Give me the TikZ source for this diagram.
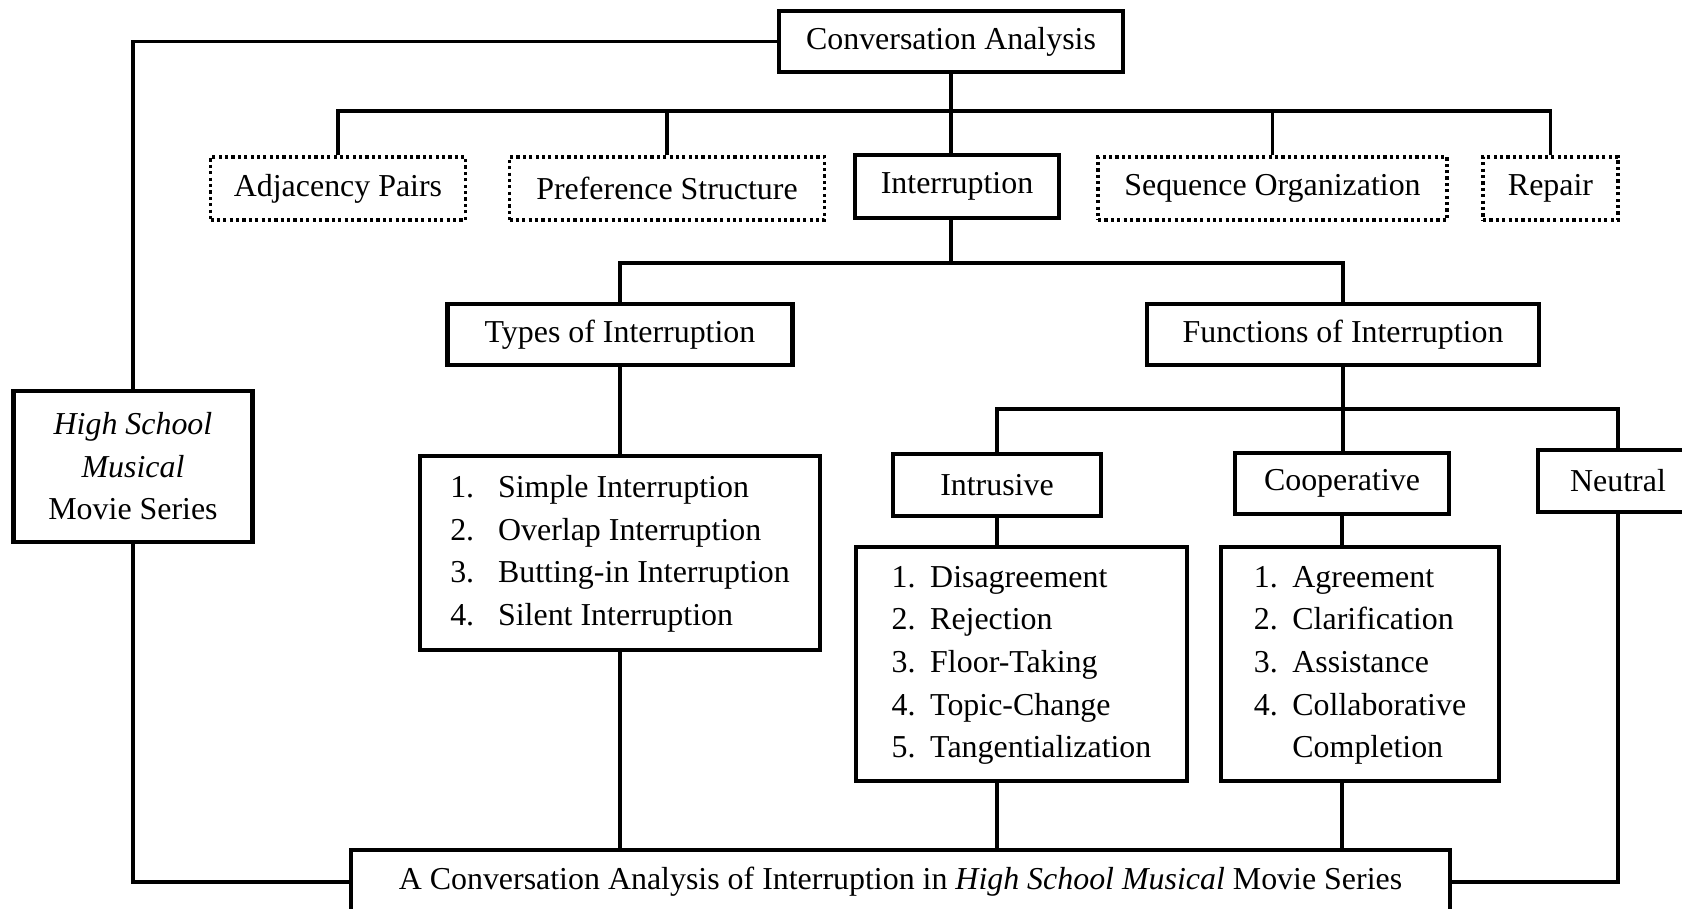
\documentclass[tikz,border=0pt]{standalone}
\usepackage{fontspec}
\setmainfont{Liberation Serif}
\usetikzlibrary{calc}

\begin{document}
\begin{tikzpicture}[
  x=0.376pt, y=-0.376pt,
  every node/.style={font=\fontsize{12}{16}\selectfont, inner sep=0pt, align=center},
  boxsize/.style 2 args={minimum width=#1*0.376pt, minimum height=#2*0.376pt},
  solidbox/.style={draw=black, line width=1.7pt, fill=white, rectangle},
  dotbox/.style={draw=black, line width=1.3pt, dash pattern=on 1.2pt off 1.2pt, fill=white, rectangle},
  link/.style={draw=black, line width=1.15pt}
]
  \path[use as bounding box, clip] (0,0) rectangle (1682,908);

  % top level
  \node[solidbox, boxsize={344}{61}] (conv) at (951,41.5) {Conversation Analysis};
  \node[dotbox, boxsize={255}{63}] (adj) at (338,188.5) {Adjacency Pairs};
  \node[dotbox, boxsize={315}{63}] (pref) at (667,188.5) {Preference Structure};
  \node[solidbox, boxsize={204}{63}] (inter) at (957,186.5) {Interruption};
  \node[dotbox, boxsize={349}{63}] (seq) at (1272.5,188.5) {Sequence Organization};
  \node[dotbox, boxsize={135}{63}] (repair) at (1550.5,188.5) {Repair};

  % data source and result
  \node[solidbox, boxsize={239}{151}] (hsm) at (133,466.5) {\textit{High School}\\\textit{Musical}\\Movie Series};
  \node[solidbox, boxsize={1099}{64}] (bottom) at (900.5,882) {A Conversation Analysis of Interruption in \textit{High School Musical} Movie Series};

  % types
  \node[solidbox, boxsize={345}{61}] (types) at (620,334.5) {Types of Interruption};
  \node[solidbox, boxsize={400}{194}] (typelist) at (620,553) {%
    \begin{tabular}{@{}l@{\hspace{9pt}}l@{}}
      1. & Simple Interruption\\
      2. & Overlap Interruption\\
      3. & Butting-in Interruption\\
      4. & Silent Interruption
    \end{tabular}};

  % functions
  \node[solidbox, boxsize={392}{61}] (func) at (1343,334.5) {Functions of Interruption};
  \node[solidbox, boxsize={208}{62}] (intr) at (997,485) {Intrusive};
  \node[solidbox, boxsize={214}{61}] (coop) at (1342,483.5) {Cooperative};
  \node[solidbox, boxsize={160}{62}] (neut) at (1618,481) {Neutral};
  \node[solidbox, boxsize={331}{234}] (intrlist) at (1021.5,664) {%
    \begin{tabular}{@{}l@{\hspace{5.5pt}}l@{}}
      1. & Disagreement\\
      2. & Rejection\\
      3. & Floor-Taking\\
      4. & Topic-Change\\
      5. & Tangentialization
    \end{tabular}};
  \node[solidbox, boxsize={278}{234}] (cooplist) at (1360,664) {%
    \begin{tabular}{@{}l@{\hspace{5.5pt}}l@{}}
      1. & Agreement\\
      2. & Clarification\\
      3. & Assistance\\
      4. & Collaborative\\
         & Completion
    \end{tabular}};

  \coordinate (topbus) at (0,111);
  \coordinate (midbus) at (0,263);
  \coordinate (funcbus) at (0,409);

  % connectors
  \draw[link] (adj.north) -- (adj.north |- topbus) -- (repair.north |- topbus) -- (repair.north);
  \foreach \n in {pref,seq}
    \draw[link] (\n.north) -- (\n.north |- topbus);
  \draw[link] (conv.south) -- (conv.south |- inter.north);
  \draw[link] (conv.west) -| (hsm.north);
  \draw[link] (hsm.south) |- (bottom.west);

  \draw[link] (conv.south |- inter.south) -- (conv.south |- midbus);
  \draw[link] (types.north) -- (types.north |- midbus) -- (func.north |- midbus) -- (func.north);
  \draw[link] (types.south) -- (typelist.north);
  \draw[link] (typelist.south) -- (typelist.south |- bottom.north);

  \draw[link] (func.south) -- (func.south |- coop.north);
  \draw[link] (intr.north) -- (intr.north |- funcbus) -- (neut.north |- funcbus) -- (neut.north);
  \draw[link] (intr.south) -- (intr.south |- intrlist.north);
  \draw[link] (intr.south |- intrlist.south) -- (intr.south |- bottom.north);
  \draw[link] (coop.south) -- (coop.south |- cooplist.north);
  \draw[link] (coop.south |- cooplist.south) -- (coop.south |- bottom.north);
  \draw[link] (neut.south) |- (bottom.east);
\end{tikzpicture}
\end{document}
